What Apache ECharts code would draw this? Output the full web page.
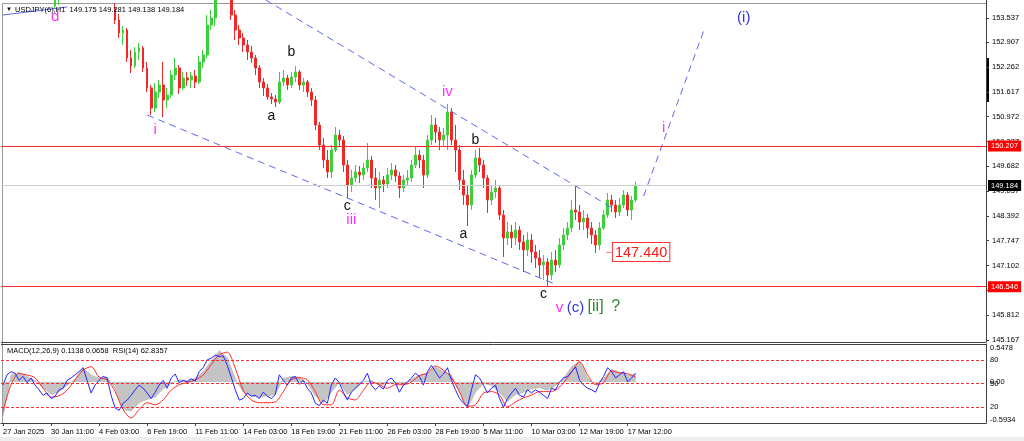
<!DOCTYPE html>
<html><head><meta charset="utf-8">
<script src="https://cdn.jsdelivr.net/npm/echarts@6/dist/echarts.min.js"></script>
<style>html,body{margin:0;padding:0;background:#fff}#c{width:1024px;height:441px}</style>
</head><body><div id="c"></div>
<script>
// ---------- data ----------
const symbolName = 'USDJPY(6)';
const timeframe = 'H1';
const lastBar = { o: 149.175, h: 149.281, l: 149.138, c: 149.184 };
const macdInfo = { main: '0.1138', signal: '0.0658', rsi: '62.8357' };

const timeLabels = ['27 Jan 2025','30 Jan 11:00','4 Feb 03:00','6 Feb 19:00','11 Feb 11:00','14 Feb 03:00',
  '18 Feb 19:00','21 Feb 11:00','26 Feb 03:00','28 Feb 19:00','5 Mar 11:00','10 Mar 03:00','12 Mar 19:00','17 Mar 12:00'];
const labelEvery = 12;      // bars between time labels
const slotCount = 246;      // bar slots across the pane

const priceTicks = [153.537,152.907,152.262,151.617,150.972,150.327,149.682,149.037,148.392,147.747,147.102,146.457,145.812,145.167];
const priceMin = 145.113, priceMax = 154.005;
const rsiLevels = [20, 50, 80];
const macdMin = -0.5934, macdMax = 0.5478;

const levelResistance = 150.207;
const levelSupport = 146.546;
const levelTarget = 147.440;

// candles: [open, close, low, high]; null = not visible
const candles = [
 null,null,null,null,null,null,null,null,null,null,null,null,null,
 [153.849,154.135,153.797,154.265],[154.057,154.213,153.875,154.395],
 null,null,null,null,null,null,null,null,null,null,null,null,null,
 [153.797,153.485,153.381,153.927],[153.485,153.147,153.017,153.641],[153.147,153.225,152.835,153.329],
 [153.225,152.497,152.393,153.277],[152.497,152.289,152.107,152.705],[152.289,152.653,152.237,152.783],
 [152.653,152.757,152.445,152.887],[152.757,152.237,152.133,152.809],[152.237,151.717,151.613,152.393],
 [151.717,151.197,151.015,151.795],[151.197,151.613,151.093,151.847],[151.613,151.795,151.457,151.925],
 [151.795,151.405,150.963,152.393],[151.405,151.535,151.197,151.717],[151.535,152.055,151.457,152.185],
 [152.055,152.237,151.925,152.497],[152.237,151.717,151.561,152.315],[151.717,151.977,151.665,152.133],
 [151.977,151.925,151.769,152.133],[151.925,152.029,151.717,152.133],[152.029,151.873,151.717,152.185],
 [151.873,152.393,151.821,152.549],[152.393,152.575,152.237,152.705],[152.575,153.355,152.497,153.615],
 [153.355,153.537,153.225,153.745],[153.537,154.135,153.329,154.395],
 null,null,null,
 [154.135,153.615,153.485,154.265],[153.615,153.225,152.965,153.745],[153.225,153.017,152.835,153.355],
 [153.017,152.835,152.653,153.147],[152.835,152.653,152.445,152.965],[152.653,152.497,152.367,152.809],
 [152.497,152.237,152.055,152.575],[152.237,151.873,151.717,152.315],[151.873,151.717,151.509,151.977],
 [151.717,151.483,151.405,151.821],[151.483,151.431,151.301,151.587],[151.431,151.353,151.223,151.535],
 [151.353,151.873,151.301,152.133],[151.873,151.977,151.769,152.185],[151.977,151.795,151.665,152.055],
 [151.795,152.003,151.717,152.133],[152.003,152.133,151.873,152.289],[152.133,151.795,151.665,152.185],
 [151.795,151.873,151.613,151.977],[151.873,151.613,151.483,151.925],[151.613,151.405,151.249,151.717],
 [151.405,150.755,150.625,151.509],[150.755,150.235,150.105,150.833],[150.235,149.845,149.637,150.417],
 [149.845,149.533,149.377,150.105],[149.533,150.105,149.377,150.235],[150.105,150.495,150.053,150.703],
 [150.495,150.365,150.183,150.625],[150.365,149.715,149.533,150.469],[149.715,149.195,148.857,149.845],
 [149.195,149.377,149.013,149.585],[149.377,149.533,149.273,149.715],[149.533,149.455,149.247,149.689],
 [149.455,149.637,149.325,149.767],[149.637,149.845,149.533,150.287],[149.845,149.377,149.117,149.949],
 [149.377,149.117,148.805,149.637],[149.117,149.325,148.597,149.533],[149.325,149.221,149.013,149.429],
 [149.221,149.455,149.117,149.637],[149.455,149.585,149.325,149.767],[149.585,149.429,149.273,149.715],
 [149.429,149.117,148.857,149.533],[149.117,149.325,149.013,149.455],[149.325,149.377,149.169,149.585],
 [149.377,149.715,149.273,149.845],[149.715,149.975,149.637,150.183],[149.975,149.845,149.637,150.105],
 [149.845,149.455,149.117,149.975],[149.455,150.365,149.377,150.495],[150.365,150.755,150.235,151.015],
 [150.755,150.573,150.287,150.937],[150.573,150.365,150.105,150.703],[150.365,150.495,150.209,150.677],
 [150.495,151.093,150.105,151.301],[151.093,150.365,150.235,151.197],[150.365,150.105,149.533,150.755],
 [150.105,149.325,149.065,150.235],[149.325,148.935,148.675,149.585],[148.935,148.675,148.129,149.195],
 [148.675,149.455,148.545,149.585],[149.455,149.897,149.377,150.105],[149.897,149.715,149.533,150.157],
 [149.715,149.377,149.117,149.845],[149.377,148.805,148.467,149.455],[148.805,149.013,148.675,149.169],
 [149.013,149.117,148.857,149.325],[149.117,148.415,148.285,149.195],[148.415,147.817,147.323,148.545],
 [147.817,147.973,147.635,148.233],[147.973,147.817,147.557,148.155],[147.817,148.025,147.635,148.233],
 [148.025,147.713,147.505,148.129],[147.713,147.505,146.933,147.895],[147.505,147.765,147.349,147.973],
 [147.765,147.453,147.167,147.921],[147.453,147.297,147.037,147.635],[147.297,147.115,146.777,147.505],
 [147.115,147.193,146.725,147.375],[147.193,146.855,146.543,147.297],[146.855,147.245,146.725,147.453],
 [147.245,147.115,146.933,147.505],[147.115,147.635,147.037,147.817],[147.635,147.895,147.505,148.077],
 [147.895,148.077,147.765,148.233],[148.077,148.545,147.973,148.805],[148.545,148.493,148.285,149.195],
 [148.493,148.233,148.025,148.675],[148.233,148.337,148.025,148.545],[148.337,148.077,147.817,148.441],
 [148.077,147.895,147.661,148.233],[147.895,147.635,147.427,148.025],[147.635,148.077,147.505,148.233],
 [148.077,148.415,148.025,148.545],[148.415,148.805,148.337,148.987],[148.805,148.675,148.493,148.935],
 [148.675,148.493,148.337,148.805],[148.493,148.675,148.389,148.857],[148.675,148.935,148.597,149.065],
 [148.935,148.545,148.389,149.013],[148.545,148.805,148.285,148.909],[148.805,149.184,148.753,149.281]
];

const rsi = [48,61,65,63,54,59,51,57,48,42, 35,38,31,34,42,44,54,57,61,65,
 70,54,38,48,54,59,57,35,19,16, 25,29,35,42,48,44,38,31,39,48,
 54,44,57,62,51,54,52,56,53,65, 70,80,82,86,84,85,73,58,42,29,
 31,38,34,35,31,39,34,31,36,61, 54,48,57,59,49,54,44,38,25,22,
 29,25,48,57,51,39,29,39,44,49, 54,63,48,42,47,43,54,57,51,39,
 48,52,57,63,59,48,65,73,65,57, 62,70,54,42,31,25,21,42,61,57,
 48,38,44,48,31,20,31,38,44,35, 33,42,38,42,39,35,31,44,42,52,
 57,59,65,71,54,48,44,42,39,51, 59,70,65,57,61,65,52,57,62.84];

// [bar index, value]
const macdMain = [[0,-0.50],[2,0.10],[4,0.14],[6,0.08],[8,0.02],[10,-0.08],[12,-0.18],[14,-0.14],[16,-0.05],[18,0.04],
 [20,0.20],[22,0.10],[24,0.05],[26,0.07],[28,-0.10],[30,-0.40],[32,-0.42],[34,-0.30],[36,-0.25],[38,-0.22],
 [40,-0.10],[42,-0.02],[44,0.03],[46,0.02],[48,0.05],[50,0.15],[52,0.30],[54,0.45],[56,0.35],[58,0.05],
 [60,-0.15],[62,-0.20],[64,-0.22],[66,-0.20],[68,-0.18],[70,0.05],[72,0.08],[74,0.07],[76,-0.02],[78,-0.20],
 [80,-0.30],[82,-0.15],[84,0.00],[86,-0.18],[88,-0.10],[90,0.00],[92,0.02],[94,-0.05],[96,-0.02],[98,0.00],
 [100,-0.03],[102,0.04],[104,0.10],[106,0.12],[108,0.22],[110,0.15],[112,0.10],[114,-0.15],[116,-0.38],[118,-0.15],
 [120,-0.02],[122,-0.05],[124,-0.15],[126,-0.28],[128,-0.18],[130,-0.15],[132,-0.10],[134,-0.08],[136,-0.12],[138,-0.05],
 [140,0.05],[142,0.22],[144,0.30],[146,0.05],[148,-0.03],[150,0.05],[152,0.18],[154,0.14],[156,0.10],[158,0.1138]];
const macdSignal = [[0,-0.43],[2,-0.04],[4,0.12],[6,0.10],[8,0.06],[10,-0.09],[12,-0.22],[14,-0.20],[16,-0.12],[18,0.03],
 [20,0.17],[22,0.22],[24,0.07],[26,0.03],[28,-0.14],[30,-0.40],[32,-0.52],[34,-0.40],[36,-0.30],[38,-0.33],
 [40,-0.26],[42,-0.12],[44,-0.04],[46,-0.01],[48,0.03],[50,0.10],[52,0.25],[54,0.39],[56,0.43],[58,0.20],
 [60,-0.12],[62,-0.26],[64,-0.30],[66,-0.30],[68,-0.29],[70,-0.14],[72,0.03],[74,0.06],[76,0.03],[78,-0.14],
 [80,-0.33],[82,-0.33],[84,-0.12],[86,-0.23],[88,-0.26],[90,-0.12],[92,0.00],[94,-0.04],[96,-0.09],[98,-0.04],
 [100,-0.04],[102,0.00],[104,0.09],[106,0.13],[108,0.23],[110,0.17],[112,0.06],[114,-0.14],[116,-0.35],[118,-0.33],
 [120,-0.16],[122,-0.14],[124,-0.19],[126,-0.36],[128,-0.29],[130,-0.23],[132,-0.19],[134,-0.14],[136,-0.14],[138,-0.12],
 [140,-0.01],[142,0.14],[144,0.29],[146,0.10],[148,-0.04],[150,-0.01],[152,0.16],[154,0.13],[156,0.12],[158,0.0658]];

// drawn objects: [bar index, price]
const channelUpper = [[63,154.171],[153,148.545]];
const channelLower = [[36,151.015],[138,146.611]];
const projection = [[160,148.909],[175,153.207]];
const trendTopLeft = [[0,153.615],[16,153.823]];

// wave labels: [text, bar index, price, degree]
const waveLabels = [
 ['d',13,153.563,'minute'], ['i',38,150.625,'minute'], ['a',67,150.963,'sub'], ['b',72,152.627,'sub'],
 ['c',86,148.623,'sub'], ['iii',87,148.285,'minute'], ['iv',111,151.613,'minute'], ['b',118,150.339,'sub'],
 ['a',115,147.895,'sub'], ['c',135,146.335,'sub'], ['v',139,145.997,'minute'], ['(c)',143,145.997,'minor'],
 ['[ii]',148,146.023,'intermediate'], ['?',153,146.023,'intermediate'], ['i',165,150.677,'minute'], ['(i)',185,153.537,'minor']
];
const targetBar = 150;

// ---------- styles ----------
const FONT = 'Liberation Sans, Arial, sans-serif';
const UP = '#3ccf3c', DOWN = '#f02828';
const CH = '#5a68f0';
const degreeStyle = {
  minute: { color: '#ff33ff', size: 15 },
  sub: { color: '#111111', size: 14 },
  minor: { color: '#3535d0', size: 15 },
  intermediate: { color: '#2a8a2a', size: 16 }
};

const categories = Array.from({ length: slotCount }, (_, i) =>
  (i % labelEvery === 0 && i / labelEvery < timeLabels.length) ? timeLabels[i / labelEvery] : '');
const candleData = candles.map(c => c ? c : ['-', '-', '-', '-']);

const markPoints = waveLabels.map(([t, bar, price, deg]) => ({
  coord: [bar, price],
  symbolSize: 1,
  itemStyle: { color: 'rgba(0,0,0,0)' },
  label: { show: true, position: 'inside', formatter: t, color: degreeStyle[deg].color,
           fontSize: degreeStyle[deg].size, fontFamily: FONT }
}));
markPoints.push({
  coord: [targetBar, levelTarget], symbolSize: 1, itemStyle: { color: 'rgba(0,0,0,0)' },
  label: { show: true, position: 'right', distance: 2,
    formatter: '{d|—}{b|' + levelTarget.toFixed(3) + '}',
    rich: {
      d: { color: '#ff2020', fontSize: 7, fontFamily: FONT },
      b: { color: '#ff1a1a', fontSize: 14.5, fontFamily: FONT, borderColor: '#ff3030', borderWidth: 1,
           backgroundColor: '#fff', padding: [2, 2, 1, 2] }
    } }
});

const levelLabel = (value, bg, fg) => ({ show: true, position: 'end', distance: 2, formatter: () => value.toFixed(3),
  color: fg, backgroundColor: bg, padding: [2, 3, 1, 3], fontSize: 7.5, fontFamily: FONT });

const lineSeries = (data, dashed, width) => ({
  type: 'line', xAxisIndex: 0, yAxisIndex: 0, data, symbol: 'none', silent: true, clip: true,
  lineStyle: { color: CH, width: width || 1, type: dashed ? [7, 5] : 'solid' }, z: 4
});

const chart = echarts.init(document.getElementById('c'));
chart.setOption({
  animation: false,
  backgroundColor: '#ffffff',
  textStyle: { fontFamily: FONT },
  grid: [
    { left: 1, right: 38, top: 0, height: 342 },
    { left: 1, right: 38, top: 344, height: 79 }
  ],
  xAxis: [
    { type: 'category', gridIndex: 0, data: categories, boundaryGap: true, show: false },
    { type: 'category', gridIndex: 1, data: categories, boundaryGap: true,
      axisLine: { show: true, lineStyle: { color: '#404040' } },
      axisTick: { show: true, alignWithLabel: true, interval: (i, v) => v !== '', length: 3, lineStyle: { color: '#404040' } },
      axisLabel: { show: true, interval: (i, v) => v !== '', align: 'left', fontSize: 7.5, color: '#000', margin: 5,
                   fontFamily: FONT, hideOverlap: false },
      splitLine: { show: false } }
  ],
  yAxis: [
    { type: 'value', gridIndex: 0, position: 'right', min: priceMin, max: priceMax,
      axisLine: { show: true, lineStyle: { color: '#404040' } },
      axisTick: { show: true, customValues: priceTicks, length: 3, lineStyle: { color: '#404040' } },
      axisLabel: { show: true, customValues: priceTicks, formatter: v => v.toFixed(3), fontSize: 7.5, color: '#000',
                   margin: 6, fontFamily: FONT, hideOverlap: false },
      splitLine: { show: false } },
    { type: 'value', gridIndex: 1, position: 'right', min: 0, max: 100,
      axisLine: { show: true, lineStyle: { color: '#404040' } },
      axisTick: { show: false },
      axisLabel: { show: true, customValues: rsiLevels, fontSize: 7.5, color: '#000', margin: 4, fontFamily: FONT, hideOverlap: false },
      splitLine: { show: false } },
    { type: 'value', gridIndex: 1, position: 'right', min: macdMin, max: macdMax,
      axisLine: { show: false }, axisTick: { show: false },
      axisLabel: { show: true, customValues: [macdMin, 0, macdMax], margin: 4, fontSize: 7.5, color: '#000', fontFamily: FONT,
        showMinLabel: true, showMaxLabel: true, hideOverlap: false,
        formatter: v => Math.abs(v - macdMax) < 1e-6 ? '{t|' + macdMax.toFixed(4) + '}'
                     : Math.abs(v - macdMin) < 1e-6 ? '{b|' + macdMin.toFixed(4) + '}' : '0.00',
        rich: { t: { padding: [8, 0, 0, 0], fontSize: 7.5, color: '#000', fontFamily: FONT },
                b: { padding: [0, 0, 6, 0], fontSize: 7.5, color: '#000', fontFamily: FONT } } },
      splitLine: { show: false } }
  ],
  series: [
    { type: 'candlestick', xAxisIndex: 0, yAxisIndex: 0, data: candleData, barWidth: 2.2, clip: true, z: 3,
      itemStyle: { color: UP, color0: DOWN, borderColor: UP, borderColor0: DOWN, borderWidth: 1 },
      markLine: { symbol: ['none', 'none'], silent: true, animation: false,
        data: [
          { yAxis: lastBar.c, lineStyle: { color: '#cccccc', width: 1, type: 'solid' }, label: levelLabel(lastBar.c, '#000000', '#ffffff') },
          { yAxis: levelResistance, lineStyle: { color: '#ff2a2a', width: 1, type: 'solid' }, label: levelLabel(levelResistance, '#ff0000', '#ffffff') },
          { yAxis: levelSupport, lineStyle: { color: '#ff2a2a', width: 1, type: 'solid' }, label: levelLabel(levelSupport, '#ff0000', '#ffffff') }
        ] },
      markPoint: { silent: true, animation: false, data: markPoints }
    },
    lineSeries(channelUpper, true),
    lineSeries(channelLower, true),
    lineSeries(projection, true),
    lineSeries(trendTopLeft, false),
    { type: 'line', xAxisIndex: 1, yAxisIndex: 2, data: macdMain, symbol: 'none', silent: true,
      lineStyle: { color: '#a9a9a9', width: 0.6 }, areaStyle: { color: '#c4c4c4', opacity: 1 }, z: 1 },
    { type: 'line', xAxisIndex: 1, yAxisIndex: 2, data: macdSignal, symbol: 'none', silent: true, smooth: 0.3,
      lineStyle: { color: '#ff2a2a', width: 1 }, z: 3 },
    { type: 'line', xAxisIndex: 1, yAxisIndex: 1, data: rsi, symbol: 'none', silent: true,
      lineStyle: { color: '#2424ff', width: 1 }, z: 4,
      markLine: { symbol: ['none', 'none'], silent: true, animation: false, label: { show: false },
        lineStyle: { color: '#ff2a2a', width: 1, type: [3, 2] },
        data: rsiLevels.map(v => ({ yAxis: v })) } }
  ],
  graphic: [
    { type: 'rect', shape: { x: 0, y: 437, width: 1024, height: 4 }, style: { fill: '#eeeeee' }, silent: true },
    { type: 'line', shape: { x1: 2, y1: 3.5, x2: 986, y2: 3.5 }, style: { stroke: '#9a9a9a', lineWidth: 1 }, silent: true, z: 1 },
    { type: 'line', shape: { x1: 2.5, y1: 3, x2: 2.5, y2: 423 }, style: { stroke: '#9a9a9a', lineWidth: 1 }, silent: true },
    { type: 'line', shape: { x1: 1, y1: 342.5, x2: 986, y2: 342.5 }, style: { stroke: '#404040', lineWidth: 1 }, silent: true },
    { type: 'line', shape: { x1: 1, y1: 344.5, x2: 986, y2: 344.5 }, style: { stroke: '#404040', lineWidth: 1 }, silent: true },
    { type: 'rect', shape: { x: 986, y: 58, width: 3, height: 44 }, style: { fill: '#000' }, silent: true },
    { type: 'text', left: 6, top: 6, z: 100, style: { text: '▼', fontSize: 6, fill: '#000', fontFamily: FONT } },
    { type: 'text', left: 15, top: 6, z: 100, style: {
        text: symbolName + ',' + timeframe + '  ' + [lastBar.o, lastBar.h, lastBar.l, lastBar.c].map(v => v.toFixed(3)).join(' '),
        fontSize: 7.5, fill: '#000', fontFamily: FONT } },
    { type: 'text', left: 7, top: 347, z: 100, style: {
        text: 'MACD(12,26,9) ' + macdInfo.main + ' ' + macdInfo.signal + '  RSI(14) ' + macdInfo.rsi,
        fontSize: 7.5, fill: '#000', fontFamily: FONT } }
  ]
});
</script></body></html>
